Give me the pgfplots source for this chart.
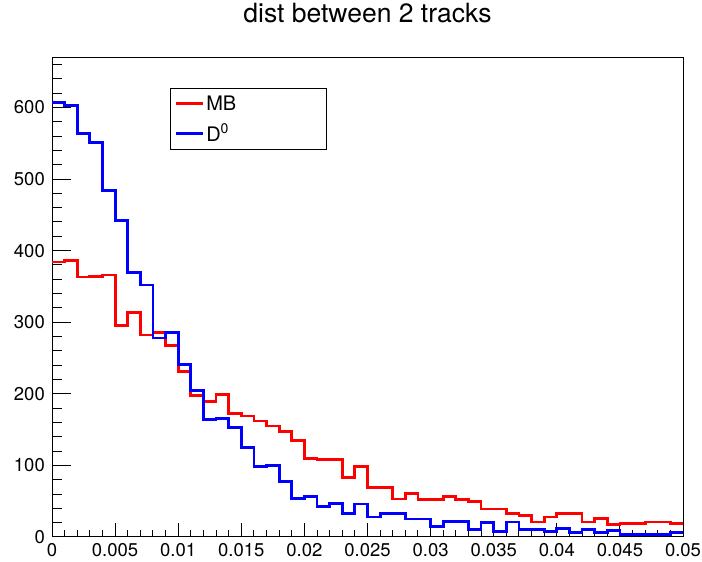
\documentclass[border=0pt]{standalone}
\usepackage{fontspec}
\setmainfont{TeX Gyre Heros}
\usepackage{pgfplots}
\usepackage{pgfplotstable}
\pgfplotsset{compat=1.18}

% bin left edges, MB and D0 counts (last row repeats the final bin)
\pgfplotstableread{
x      mb   d0
0.000  384  607
0.001  386  603
0.002  363  563
0.003  364  551
0.004  366  484
0.005  295  442
0.006  313  369
0.007  282  352
0.008  286  278
0.009  268  286
0.010  231  241
0.011  198  205
0.012  189  164
0.013  199  166
0.014  172  153
0.015  169  125
0.016  162   98
0.017  155  100
0.018  147   77
0.019  135   54
0.020  110   57
0.021  108   43
0.022  108   47
0.023   83   33
0.024   98   46
0.025   69   28
0.026   69   33
0.027   53   33
0.028   61   25
0.029   52   25
0.030   52   15
0.031   57   22
0.032   52   22
0.033   50   10
0.034   39   20
0.035   39  7.5
0.036   33   21
0.037   30   11
0.038   21   10
0.039   28  7.5
0.040   33   12
0.041   33    6
0.042   21   10
0.043   26  6.6
0.044   18    9
0.045   19    4
0.046   19    4
0.047   21    4
0.048   21    4
0.049   19  6.6
0.050   19  6.6
}\histdata

\definecolor{rootred}{RGB}{255,0,0}
\definecolor{rootblue}{RGB}{0,0,255}

\begin{document}
\begin{tikzpicture}
\path[use as bounding box] (-52pt,-25pt) rectangle (650pt,537pt);
\begin{axis}[
    at={(0,0)}, anchor=south west,
    scale only axis,
    width=631pt, height=479pt,
    xmin=0, xmax=0.05,
    ymin=0, ymax=669,
    axis line style={black, line width=1pt},
    tick align=inside,
    tick pos=left,
    tick style={black, line width=1pt},
    xtick={0,0.005,0.01,0.015,0.02,0.025,0.03,0.035,0.04,0.045,0.05},
    xticklabels={0,0.005,0.01,0.015,0.02,0.025,0.03,0.035,0.04,0.045,0.05},
    minor x tick num=4,
    ytick={0,100,200,300,400,500,600},
    minor ytick={0,20,...,660},
    xtick style={/pgfplots/major tick length=14.4pt,/pgfplots/minor tick length=7.2pt},
    ytick style={/pgfplots/major tick length=19pt,/pgfplots/minor tick length=9.5pt},
    ticklabel style={font=\fontsize{18.5}{20}\selectfont, inner sep=0pt},
    xticklabel style={yshift=-6pt},
    yticklabel style={xshift=-7pt},
    /pgf/number format/assume math mode=true,
    title={dist between 2 tracks},
    title style={font=\fontsize{26.5}{28}\selectfont, at={(0.5,1)}, anchor=base, yshift=29pt},
    legend style={at={(0.187,0.937)}, anchor=north west, draw=black, line width=1pt,
        font=\fontsize{20}{22}\selectfont, inner xsep=4pt, inner ysep=5pt, row sep=8pt,
        cells={anchor=west}},
    legend image code/.code={\draw[#1, line width=2.8pt] (0pt,0pt) -- (27pt,0pt);},
]
\addplot[const plot, rootred, line width=2.8pt] table[x=x, y=mb] {\histdata};
\addlegendentry{MB\hspace*{84pt}}
\addplot[const plot, rootblue, line width=2.8pt] table[x=x, y=d0] {\histdata};
\addlegendentry{D\textsuperscript{0}}
\end{axis}
\end{tikzpicture}
\end{document}
